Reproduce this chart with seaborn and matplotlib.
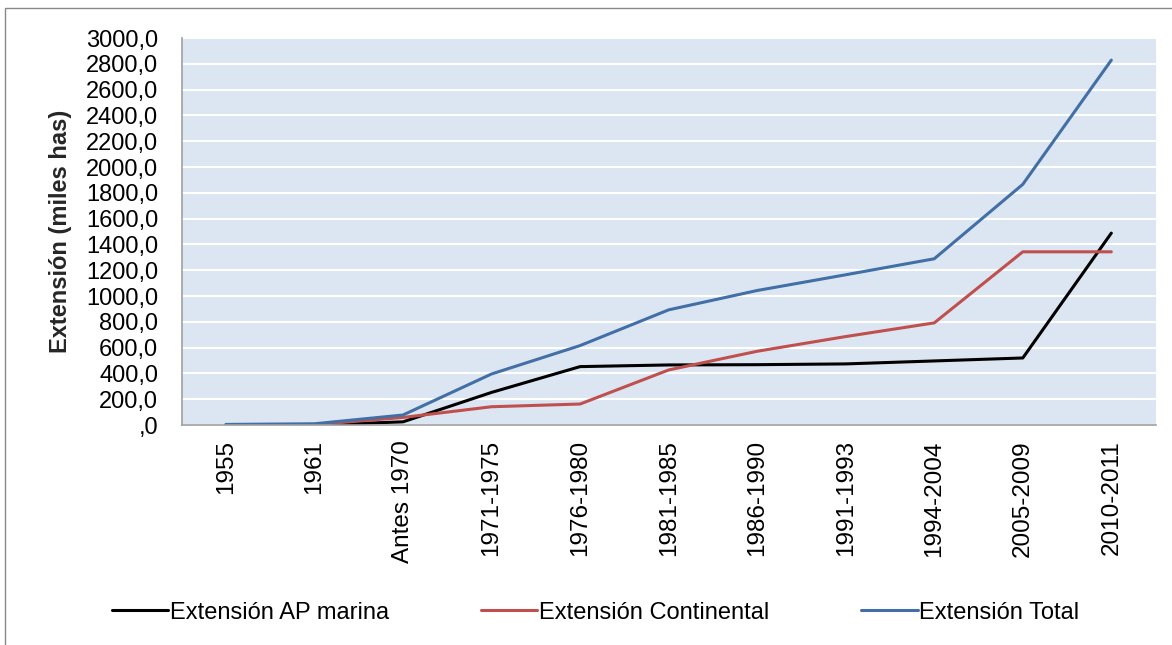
import matplotlib
matplotlib.use('Agg')
import matplotlib.pyplot as plt
import pandas as pd
import seaborn as sns
from matplotlib.patches import Rectangle
from matplotlib.ticker import FuncFormatter

periodos = ['1955', '1961', 'Antes 1970', '1971-1975', '1976-1980', '1981-1985',
            '1986-1990', '1991-1993', '1994-2004', '2005-2009', '2010-2011']
ap_marina = [0, 0, 25, 253, 453, 466, 468, 474, 497, 520, 1488]
continental = [0, 3, 59, 142, 163, 427, 572, 686, 792, 1343, 1343]
total = [5, 10, 78, 396, 616, 893, 1043, 1165, 1289, 1866, 2829]

series_names = ['Extensión AP marina', 'Extensión Continental', 'Extensión Total']
colores = ['#000000', '#c0504d', '#416fa6']

df = pd.DataFrame({'periodo': periodos * 3,
                   'x': list(range(len(periodos))) * 3,
                   'valor': ap_marina + continental + total,
                   'serie': [s for s in series_names for _ in periodos]})

sns.set_theme(style='white')
plt.rcParams['font.family'] = ['Liberation Sans', 'DejaVu Sans']

fig = plt.figure(figsize=(11.72, 6.45), dpi=100)
ax = fig.add_axes([0.155, 0.341, 0.831, 0.6])

sns.lineplot(data=df, x='x', y='valor', hue='serie', palette=colores,
             linewidth=2.2, ax=ax, legend=False)

ax.set_facecolor('#dce6f2')
ax.set_xlim(-0.5, len(periodos) - 0.5)
ax.set_ylim(0, 3000)
ax.set_yticks(range(0, 3001, 200))
ax.yaxis.set_major_formatter(FuncFormatter(lambda v, p: ',0' if v == 0 else f'{int(v)},0'))
ax.grid(axis='y', color='white', linewidth=1.5)
ax.set_axisbelow(True)
ax.set_xticks(range(len(periodos)))
ax.set_xticklabels(periodos, rotation=90)
ax.tick_params(axis='y', labelsize=17, colors='black', length=0, pad=17)
ax.tick_params(axis='x', labelsize=17.5, colors='black', length=0, pad=11)
ax.set_xlabel('')
ax.set_ylabel('Extensión (miles has)', fontsize=17, fontweight='bold', labelpad=10)
for s in ['top', 'right']:
    ax.spines[s].set_visible(False)
for s in ['left', 'bottom']:
    ax.spines[s].set_color('#a0a0a0')
    ax.spines[s].set_linewidth(1.2)

handles = [plt.Line2D([], [], color=c, linewidth=2.2) for c in colores]
fig.legend(handles, series_names, loc='center', bbox_to_anchor=(0.508, 0.05), ncol=3,
           frameon=False, fontsize=17, handlelength=2.4, handletextpad=0.05,
           columnspacing=3.9, labelcolor='black')

fig.patches.append(Rectangle((0.004, -0.01), 1.0, 0.998, transform=fig.transFigure,
                             fill=False, edgecolor='#888888', linewidth=1))

fig.savefig('out.png', dpi=100)
